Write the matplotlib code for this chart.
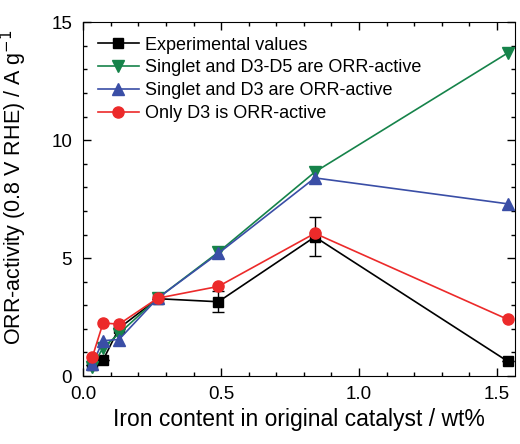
import numpy as np
import matplotlib
matplotlib.use('Agg')
import matplotlib.pyplot as plt
from matplotlib.ticker import MultipleLocator, FormatStrFormatter

plt.rcParams['font.family'] = ['Liberation Sans', 'DejaVu Sans']

# iron content / wt%
fe = [0.033, 0.072, 0.13, 0.27, 0.49, 0.84, 1.54]

exp_vals = [0.45, 0.68, 2.03, 3.28, 3.15, 5.9, 0.62]
exp_err = [0.0, 0.0, 0.0, 0.0, 0.45, 0.83, 0.0]
d3d5 = [0.4, 1.2, 1.8, 3.3, 5.25, 8.65, 13.7]
d3 = [0.5, 1.5, 1.55, 3.3, 5.2, 8.4, 7.3]
only_d3 = [0.8, 2.25, 2.2, 3.3, 3.8, 6.05, 2.4]

labels = ['Experimental values', 'Singlet and D3-D5 are ORR-active',
          'Singlet and D3 are ORR-active', 'Only D3 is ORR-active']

fig = plt.figure(figsize=(5.2, 4.44), dpi=100)
ax = fig.add_axes([0.16, 0.153, 0.83, 0.797])

h0 = ax.errorbar(fe, exp_vals, yerr=exp_err, color='black', marker='s', ms=7,
                 lw=1.2, capsize=4, elinewidth=1, zorder=3)
h1, = ax.plot(fe, d3d5, color='#16834a', marker='v', ms=9, lw=1.2, zorder=4)
h2, = ax.plot(fe, d3, color='#3a4ea6', marker='^', ms=9, lw=1.2, zorder=4)
h3, = ax.plot(fe, only_d3, color='#ec2a2a', marker='o', ms=8, lw=1.2,
              zorder=5)
# legend handle for experimental values without the error bar
hexp, = ax.plot([], [], color='black', marker='s', ms=7, lw=1.2)

ax.set_xlim(0, 1.565)
ax.set_ylim(0, 15)
ax.xaxis.set_major_locator(MultipleLocator(0.5))
ax.xaxis.set_minor_locator(MultipleLocator(0.1))
ax.yaxis.set_major_locator(MultipleLocator(5))
ax.yaxis.set_minor_locator(MultipleLocator(1))
ax.xaxis.set_major_formatter(FormatStrFormatter('%.1f'))
ax.tick_params(which='both', direction='in', top=True, right=True,
               labelsize=13.5)
ax.tick_params(axis='x', pad=7)
ax.tick_params(axis='y', pad=8)
ax.tick_params(which='major', length=6, width=1)
ax.tick_params(which='minor', length=3, width=1)

ax.set_xlabel('Iron content in original catalyst / wt%', fontsize=16.5)
ax.set_ylabel('ORR-activity (0.8 V RHE) / A g$^{-1}$', fontsize=15.5)
ax.yaxis.set_label_coords(-0.125, 0.535)

ax.legend([hexp, h1, h2, h3], labels, loc='upper left', frameon=False,
          fontsize=13, handlelength=2.3, handletextpad=0.3, labelspacing=0.32,
          borderaxespad=0.6, borderpad=0.2)

fig.savefig('out.png', dpi=100)
